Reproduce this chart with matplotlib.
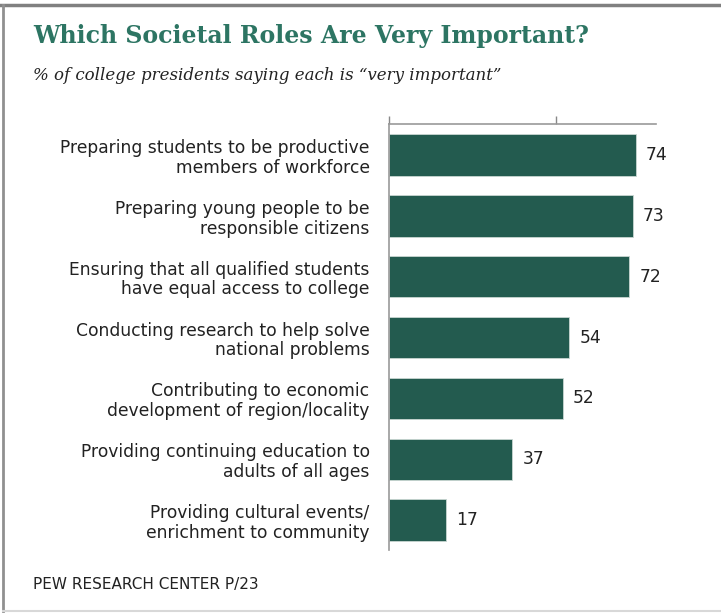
import matplotlib
matplotlib.use("Agg")
import matplotlib.pyplot as plt
from matplotlib.lines import Line2D

categories = [
    "Preparing students to be productive\nmembers of workforce",
    "Preparing young people to be\nresponsible citizens",
    "Ensuring that all qualified students\nhave equal access to college",
    "Conducting research to help solve\nnational problems",
    "Contributing to economic\ndevelopment of region/locality",
    "Providing continuing education to\nadults of all ages",
    "Providing cultural events/\nenrichment to community",
]
values = [74, 73, 72, 54, 52, 37, 17]

title = "Which Societal Roles Are Very Important?"
subtitle = "% of college presidents saying each is \u201cvery important\u201d"
source = "PEW RESEARCH CENTER P/23"

W, H = 721, 614
fig = plt.figure(figsize=(W / 100, H / 100), dpi=100)
fig.patch.set_facecolor("white")

ax = fig.add_axes([389 / W, 1 - 550 / H, (656 - 389) / W, (550 - 124) / H])
ypos = list(range(len(values)))
ax.barh(ypos, values, height=0.68, color="#235b4f", edgecolor="#c9d6d2", linewidth=0.6)
ax.set_xlim(0, 80)
ax.set_ylim(6.49, -0.51)
for y, v in zip(ypos, values):
    ax.text(v + 3, y, str(v), va="center", ha="left", fontsize=12.3,
            color="#222222", family="DejaVu Sans")

ax.set_yticks(ypos)
ax.set_yticklabels(categories, fontsize=12.3, color="#222222",
                   family="DejaVu Sans", linespacing=1.12)
ax.tick_params(axis="y", length=0, pad=14)
ax.xaxis.tick_top()
ax.set_xticks([0, 50])
ax.set_xticklabels([])
ax.tick_params(axis="x", direction="out", length=5.5, width=1, color="#888888")
for s in ["right", "bottom"]:
    ax.spines[s].set_visible(False)
for s in ["top", "left"]:
    ax.spines[s].set_color("#999999")
    ax.spines[s].set_linewidth(1.2)
for lbl in ax.get_yticklabels():
    lbl.set_horizontalalignment("right")
    lbl.set_multialignment("right")

fig.text(33 / W, 1 - 36 / H, title, fontsize=17, fontweight="bold",
         color="#2d7563", family="DejaVu Serif", va="center", ha="left")
fig.text(33 / W, 1 - 76 / H, subtitle, fontsize=12, style="italic",
         color="#222222", family="DejaVu Serif", va="center", ha="left")
fig.text(33 / W, 1 - 585 / H, source, fontsize=11, color="#222222",
         family="DejaVu Sans", va="center", ha="left")

# frame
fig.add_artist(Line2D([0, 1], [1 - 5 / H, 1 - 5 / H], transform=fig.transFigure,
                      color="#808080", linewidth=2.5))
fig.add_artist(Line2D([3 / W, 3 / W], [1 - 5 / H, 1 - 611 / H], transform=fig.transFigure,
                      color="#909090", linewidth=2))
fig.add_artist(Line2D([3 / W, 1], [1 - 611 / H, 1 - 611 / H], transform=fig.transFigure,
                      color="#d8d8d8", linewidth=1.5))

fig.savefig("out.png", dpi=100, facecolor="white")
